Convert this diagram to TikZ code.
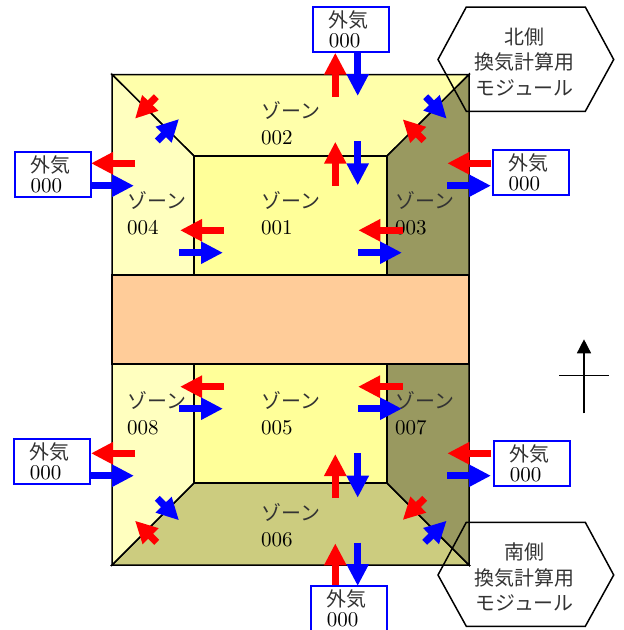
\documentclass[tikz,border=0pt]{standalone}
\usepackage{fontspec}
\usepackage{graphicx}
\usetikzlibrary{arrows.meta}
\newfontfamily\cjkfam[Scale=0.95]{Noto Sans CJK JP}
\newcommand{\cjk}{\cjkfam\color{black!80}}
\newcommand{\dg}[1]{\scalebox{2.1}{\fontsize{10}{12}\selectfont #1}}
\definecolor{zoneA}{HTML}{FFFF99}
\definecolor{zoneB}{HTML}{FFFFAA}
\definecolor{zoneC}{HTML}{999960}
\definecolor{zoneD}{HTML}{FFFFBF}
\definecolor{zoneF}{HTML}{CCCC7F}
\definecolor{coreC}{HTML}{FFCC99}
\tikzset{
  x=1pt,y=-1pt,
  wall/.style={draw=black,line width=1.5pt,line join=miter},
  zonelabel/.style={anchor=west,inner sep=0pt,align=left,font=\fontsize{21}{26}\selectfont},
  airbox/.style={draw=blue,line width=1.8pt,fill=white,minimum width=76pt,minimum height=45pt,text width=44pt,inner sep=0pt,align=left,font=\fontsize{21}{20}\selectfont},
  modlabel/.style={inner sep=0pt,align=center,font=\fontsize{21}{25.7}\selectfont},
  hexa/.style={draw=black,line width=1.5pt,line join=miter},
  flow/.style={line width=7pt,-{Triangle[length=22pt,width=21pt]}},
  redflow/.style={flow,draw=red,-{Triangle[length=22pt,width=21pt,fill=red]}},
  blueflow/.style={flow,draw=blue,-{Triangle[length=22pt,width=21pt,fill=blue]}},
  compass/.style={draw=black,line width=1.5pt},
}
\newcommand{\zl}[3]{\node[zonelabel] (zone#3) at (#1,#2) {{\cjk ゾーン}\\\dg{#3}};}
\newcommand{\fl}[6]{\coordinate (#1s) at (#3,#4); \coordinate (#1e) at (#5,#6); \draw[#2flow] (#1s) -- (#1e);}
\begin{document}
\begin{tikzpicture}
\useasboundingbox (0,0) rectangle (624,630);
% zones
\coordinate (nw) at (112,74.5); \coordinate (ne) at (469,74.5);
\coordinate (sw) at (112,565); \coordinate (se) at (469,565);
\filldraw[wall,fill=zoneB] (nw) -- (ne) -- (387,156) -- (194,156) -- cycle;
\filldraw[wall,fill=zoneD] (nw) -- (194,156) -- (194,275) -- (112,275) -- cycle;
\filldraw[wall,fill=zoneC] (ne) -- (387,156) -- (387,275) -- (469,275) -- cycle;
\filldraw[wall,fill=zoneA] (194,156) rectangle (387,275);
\filldraw[wall,fill=zoneF] (sw) -- (se) -- (387,483) -- (194,483) -- cycle;
\filldraw[wall,fill=zoneD] (sw) -- (194,483) -- (194,364) -- (112,364) -- cycle;
\filldraw[wall,fill=zoneC] (se) -- (387,483) -- (387,364) -- (469,364) -- cycle;
\filldraw[wall,fill=zoneA] (194,364) rectangle (387,483);
\filldraw[wall,fill=coreC] (112,275) rectangle (469,364);
% zone labels
\zl{261}{123.3}{002}
\zl{127}{213.5}{004}
\zl{261}{213.5}{001}
\zl{395}{213.5}{003}
\zl{127}{413.3}{008}
\zl{261}{413.3}{005}
\zl{395}{413.3}{007}
\zl{261}{525.5}{006}
% outside-air boxes
\node[airbox] (airN) at (350.8,29.7) {{\cjk 外気}\\\dg{000}};
\node[airbox] (airW) at (52.7,174.2) {{\cjk 外気}\\\dg{000}};
\node[airbox] (airE) at (530.7,172.8) {{\cjk 外気}\\\dg{000}};
\node[airbox] (airSW) at (51.8,461.3) {{\cjk 外気}\\\dg{000}};
\node[airbox] (airSE) at (531.8,463.8) {{\cjk 外気}\\\dg{000}};
\node[airbox] (airS) at (348.8,608.2) {{\cjk 外気}\\\dg{000}};
% flows, north half
\fl{a}{red}{335.3}{96.7}{335.3}{52.7}
\fl{b}{blue}{357.7}{52.7}{357.7}{96}
\fl{c}{red}{335.3}{185.7}{335.3}{141.7}
\fl{d}{blue}{357.7}{141.3}{357.7}{185.3}
\fl{e}{red}{135}{163.3}{91}{163.3}
\fl{f}{blue}{91}{185.7}{134}{185.7}
\fl{g}{red}{223.7}{230.3}{180}{230.3}
\fl{h}{blue}{179}{252.7}{223}{252.7}
\fl{i}{red}{491.3}{163.3}{447.3}{163.3}
\fl{j}{blue}{447.3}{185.7}{491}{185.7}
\fl{k}{red}{402.7}{230.3}{358.3}{230.3}
\fl{l}{blue}{358}{252.7}{402}{252.7}
\fl{m}{red}{156.3}{96.7}{135}{118.7}
\fl{n}{blue}{157.3}{141}{179}{119}
\fl{o}{blue}{425.7}{96.7}{446.7}{118.7}
\fl{p}{red}{424}{140.7}{402.7}{119.3}
% flows, south half
\fl{q}{red}{135}{453.3}{91}{453.3}
\fl{r}{blue}{90}{475.7}{134}{475.7}
\fl{s}{red}{224}{386.7}{180}{386.7}
\fl{t}{blue}{179}{408.7}{223}{408.7}
\fl{u}{red}{402.7}{386.7}{358}{386.7}
\fl{v}{blue}{358}{408.7}{402}{408.7}
\fl{w}{red}{491.3}{453.3}{447.3}{453.3}
\fl{x}{blue}{447}{475.7}{491}{475.7}
\fl{y}{red}{335.3}{498}{335.3}{454}
\fl{z}{blue}{357.7}{453.3}{357.7}{497.7}
\fl{aa}{red}{335.3}{585.3}{335.3}{543.3}
\fl{ab}{blue}{357.7}{542.7}{357.7}{586}
\fl{ac}{blue}{157.3}{498.3}{179}{520.3}
\fl{ad}{red}{156.7}{542.3}{135}{520.7}
\fl{ae}{red}{424.7}{498.3}{402.7}{520}
\fl{af}{blue}{424.7}{542.3}{446.7}{520.7}
% modules
\draw[hexa] (438,59.5) -- (466.3,7) -- (585.3,7) -- (613.7,59.5) -- (585.3,111.3) -- (466.3,111.3) -- cycle;
\node[modlabel] (modN) at (524.7,62) {{\cjk 北側}\\{\cjk 換気計算用}\\{\cjk モジュール}};
\draw[hexa] (438,575) -- (466.3,522.3) -- (585.3,522.3) -- (613.7,575) -- (585.3,626.3) -- (466.3,626.3) -- cycle;
\node[modlabel] (modS) at (524.7,577) {{\cjk 南側}\\{\cjk 換気計算用}\\{\cjk モジュール}};
% compass
\coordinate (cb) at (584,413.3); \coordinate (ct) at (584,339.3);
\coordinate (cl) at (559.3,375.3); \coordinate (cr) at (609.3,375.3);
\draw[compass,-{Triangle[length=14pt,width=14pt]}] (cb) -- (ct);
\draw[compass] (cl) -- (cr);
\end{tikzpicture}
\end{document}
